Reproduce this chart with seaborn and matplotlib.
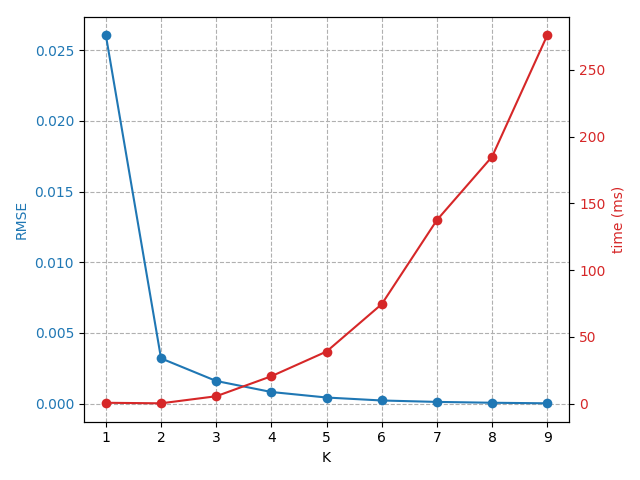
import pandas as pd
import matplotlib
matplotlib.use('Agg')
import matplotlib.pyplot as plt
import seaborn as sns

# values
k_values = [1, 2, 3, 4, 5, 6, 7, 8, 9]
rmse = [0.02606, 0.00320, 0.00160, 0.00082, 0.00043, 0.00022, 0.00012, 0.00006, 0.00002]
time_ms = [0.6, 0.2, 5.5, 20.5, 39, 74.5, 137.5, 185, 276]

df = pd.DataFrame({'K': k_values, 'RMSE': rmse, 'time': time_ms})

fig, ax1 = plt.subplots(figsize=(6.4, 4.8), dpi=100)

sns.lineplot(data=df, x='K', y='RMSE', ax=ax1, color='tab:blue', marker='o',
             markersize=7, markeredgewidth=0)
ax1.set_xlabel('K')
ax1.set_ylabel('RMSE', color='tab:blue')
ax1.tick_params(axis='y', labelcolor='tab:blue')
ax1.grid(True, linestyle='--', color='#b0b0b0', linewidth=0.8)
ax1.set_xticks(k_values)

ax2 = ax1.twinx()
sns.lineplot(data=df, x='K', y='time', ax=ax2, color='tab:red', marker='o',
             markersize=7, markeredgewidth=0)
ax2.set_ylabel('time (ms)', color='tab:red')
ax2.tick_params(axis='y', labelcolor='tab:red')

fig.tight_layout()
fig.subplots_adjust(top=0.965)
fig.savefig('out.png')
